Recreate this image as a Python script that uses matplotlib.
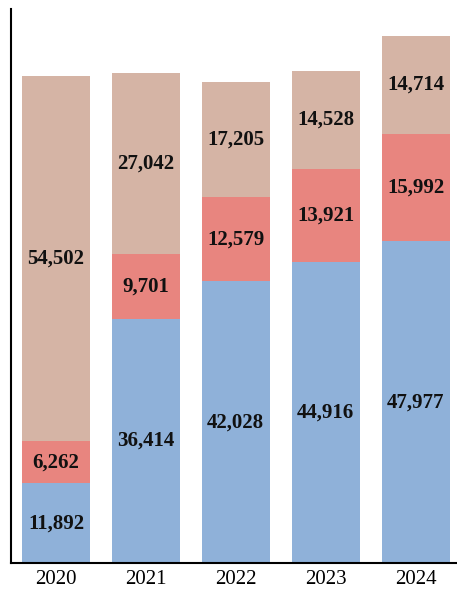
import matplotlib.pyplot as plt
import numpy as np

years = ['2020', '2021', '2022', '2023', '2024']
bottom_vals = [11892, 36414, 42028, 44916, 47977]
middle_vals = [6262, 9701, 12579, 13921, 15992]
top_vals = [54502, 27042, 17205, 14528, 14714]

colors = ['#8FB1D9', '#E8857F', '#D5B4A5']

plt.rcParams['font.family'] = ['Liberation Serif', 'DejaVu Serif']

fig = plt.figure(figsize=(4.57, 5.92), dpi=100)
ax = fig.add_axes([11 / 457, 29 / 592, 446 / 457, 554 / 592])

x = np.arange(len(years))
base = np.zeros(len(years))
for vals, col in zip([bottom_vals, middle_vals, top_vals], colors):
    ax.bar(x, vals, width=0.755, bottom=base, color=col)
    for xi, b, v in zip(x, base, vals):
        ax.text(xi, b + v / 2, f'{v:,}', ha='center', va='center',
                fontsize=15, fontweight='bold', color='#111111')
    base = base + np.array(vals)

ax.set_xlim(-0.5, 4.46)
ax.set_ylim(0, 82650)
ax.set_xticks(x)
ax.set_xticklabels(years, fontsize=15)
ax.tick_params(axis='x', length=0, pad=5)
ax.set_yticks([])
ax.spines['top'].set_visible(False)
ax.spines['right'].set_visible(False)
ax.spines['left'].set_linewidth(1.5)
ax.spines['bottom'].set_linewidth(1.5)

fig.savefig('out.png', dpi=100)
